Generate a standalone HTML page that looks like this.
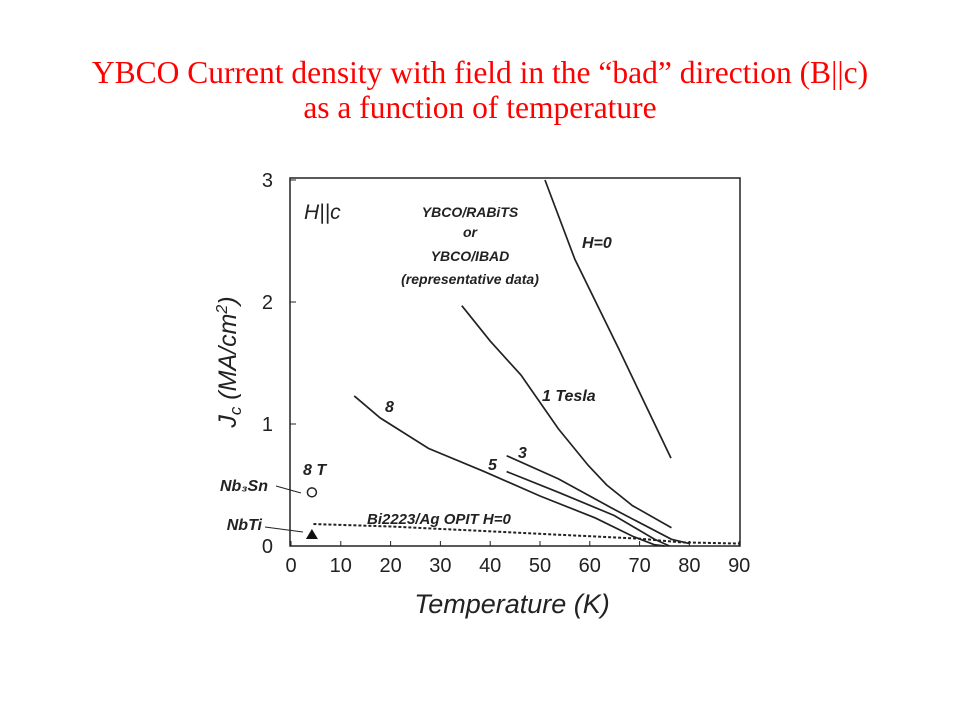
<!DOCTYPE html>
<html><head><meta charset="utf-8"><style>
body{margin:0;background:#fff;width:960px;height:720px;overflow:hidden;font-family:"Liberation Sans",sans-serif}
.t{position:absolute;left:0;width:960px;text-align:center;color:#f00;font-family:"Liberation Serif",serif;font-size:31.5px;line-height:35px}
</style></head><body>
<div class="t" style="top:55px">YBCO Current density with field in the “bad” direction (B||c)</div>
<div class="t" style="top:90px">as a function of temperature</div>
<svg id="c" width="960" height="720" style="position:absolute;left:0;top:0" font-family="Liberation Sans, sans-serif" font-style="italic"></svg>
<script>
const xTicks=[0,10,20,30,40,50,60,70,80,90];
const yTicks=[0,1,2,3];
const h0T=[51,57,66,76.3];const h0J=[3.0,2.35,1.6,0.72];
const t1T=[34.3,40,46.2,53.7,59.7,63.4,68.6,76.4];const t1J=[1.97,1.68,1.40,0.96,0.66,0.50,0.33,0.15];
const t8T=[12.7,17.9,27.6,38.8,50,61.1,68.6,73,75];const t8J=[1.23,1.05,0.80,0.61,0.41,0.23,0.08,0.01,0];
const t5T=[43.3,53.7,64.9,73,76];const t5J=[0.61,0.44,0.25,0.055,0];
const t3T=[43.3,53.7,64.9,76.4,80];const t3J=[0.74,0.55,0.30,0.055,0.02];
const biT=[4.5,20,50,70,78.3,90];const biJ=[0.18,0.16,0.10,0.06,0.03,0.02];
const NS="http://www.w3.org/2000/svg",s=document.getElementById('c');
const X=t=>291+t*4.98, Y=j=>546-j*122;
function el(tag,a,txt){const e=document.createElementNS(NS,tag);for(const k in a)e.setAttribute(k,a[k]);if(txt!=null)e.textContent=txt;s.appendChild(e);return e;}
let e=el('rect',{x:290,y:178,width:450,height:368,fill:'none',stroke:'#222','stroke-width':1.5});


xTicks.forEach(t=>{
 let l=el('line',{x1:X(t),x2:X(t),y1:546,y2:541,stroke:'#222'});
 
 
 let tx=el('text',{x:X(t),y:572,'text-anchor':'middle','font-size':20,'font-style':'normal',fill:'#222'},t);
 
 
});
yTicks.forEach(t=>{
 let l=el('line',{x1:290,x2:296,y1:Y(t),y2:Y(t),stroke:'#222'});
 
 
 let tx=el('text',{x:273,y:Y(t)+7,'text-anchor':'end','font-size':20,'font-style':'normal',fill:'#222'},t);
 
 
});
function line(T,J,name,dash){
 const p=el('path',{d:T.map((t,i)=>(i?'L':'M')+X(t)+' '+Y(J[i])).join(' '),fill:'none',stroke:'#222','stroke-width':dash?2:1.7,'stroke-dasharray':dash?'3 2':'none'});
 
 
}
line(h0T,h0J,'h0-line');line(t1T,t1J,'1-tesla-line');line(t8T,t8J,'8-tesla-line');
line(t5T,t5J,'5-tesla-line');line(t3T,t3J,'3-tesla-line');line(biT,biJ,'bi2223-line',true);
e=el('circle',{cx:X(4.2),cy:Y(0.44),r:4.5,fill:'none',stroke:'#222','stroke-width':1.5});


e=el('path',{d:`M${X(4.2)-6} ${Y(0.09)+4} L${X(4.2)+6} ${Y(0.09)+4} L${X(4.2)} ${Y(0.09)-6}Z`,fill:'#111'});


el('line',{x1:276,y1:486,x2:301,y2:493,stroke:'#222'});
el('line',{x1:265,y1:527,x2:303,y2:532,stroke:'#222'});
const labels=[
['H||c',304,219,21,'start','h-parallel-c-label'],
['YBCO/RABiTS',470,217,14,'middle','ybco-rabits-label'],
['or',470,237,14,'middle','or-label'],
['YBCO/IBAD',470,261,14,'middle','ybco-ibad-label'],
['(representative data)',470,284,14,'middle','representative-label'],
['H=0',582,248,16,'start','h0-label'],
['1 Tesla',542,401,16,'start','1-tesla-label'],
['8',385,412,16,'start','8-label'],
['5',488,470,16,'start','5-label'],
['3',518,458,16,'start','3-label'],
['8 T',303,475,16,'start','8t-label'],
['Nb₃Sn',268,491,16,'end','nb3sn-label'],
['NbTi',262,530,16,'end','nbti-label'],
['Bi2223/Ag OPIT H=0',367,524,15,'start','bi2223-label'],
['Temperature (K)',512,613,27,'middle','x-axis-title']];
labels.forEach(a=>{let t=el('text',{x:a[1],y:a[2],'font-size':a[3],'text-anchor':a[4],fill:'#222','font-weight':a[3]<=16?'bold':'normal'},a[0]);
 
 });
e=el('text',{x:0,y:0,'font-size':25,'text-anchor':'middle',fill:'#222',transform:'translate(236,362) rotate(-90)'});
e.innerHTML='J<tspan font-size="17" dy="5">c</tspan><tspan dy="-5"> (MA/cm</tspan><tspan font-size="16" dy="-9">2</tspan><tspan dy="9">)</tspan>';


</script>
</body></html>
